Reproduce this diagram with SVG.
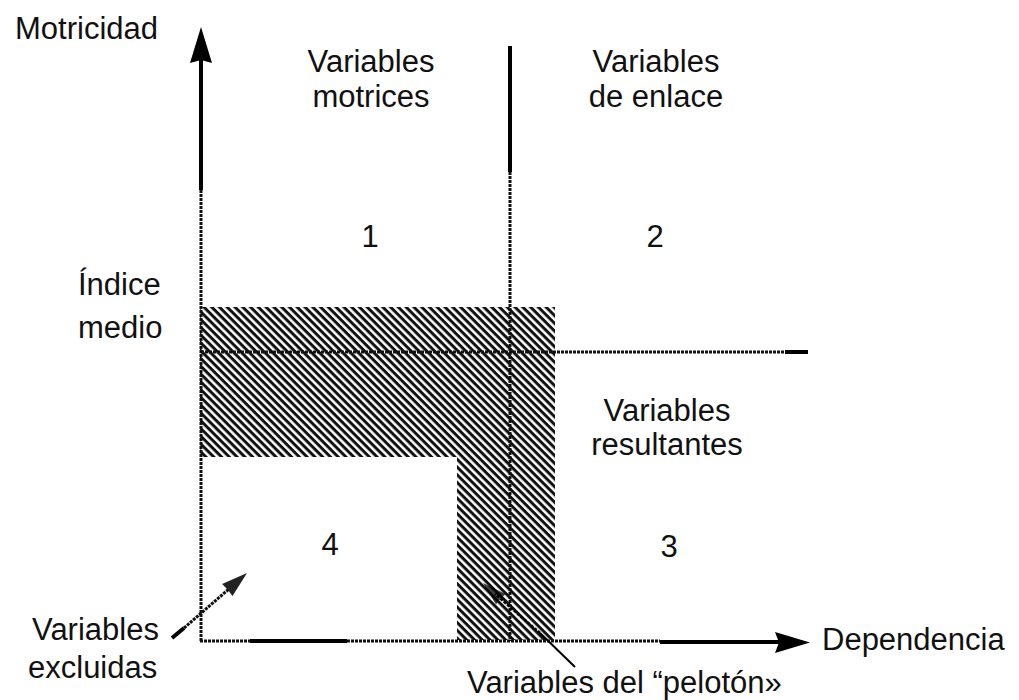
<svg xmlns="http://www.w3.org/2000/svg" width="1019" height="700" viewBox="0 0 1019 700">
<style>
text{font-family:"Liberation Sans",Arial,sans-serif;font-size:31px;fill:#111}
.c{text-anchor:middle}
.tex{stroke:#111;stroke-width:3;stroke-dasharray:3 1;fill:none}
.sol{stroke:#000;stroke-width:4;fill:none}
.thin{stroke:#000;stroke-width:2;fill:none}
</style>
<defs>
<pattern id="hatch" width="5.5" height="5.5" patternUnits="userSpaceOnUse" patternTransform="rotate(45)">
<rect width="5.5" height="5.5" fill="#fff"/>
<rect width="5.5" height="3" fill="#111"/>
</pattern>
</defs>
<rect width="1019" height="700" fill="#fff"/>
<g id="zona-peloton">
<polygon points="200,307 555,307 555,640 457,640 457,457 200,457" fill="url(#hatch)"/>
</g>
<g id="connectors">
<!-- Y axis -->
<line class="sol" x1="201" y1="58" x2="201" y2="190"/>
<line class="tex" x1="201" y1="190" x2="201" y2="641"/>
<polygon points="201,27 212,63 201,60 190,63" fill="#000"/>
<!-- X axis -->
<line class="tex" x1="200" y1="641" x2="250" y2="641"/>
<line class="sol" x1="250" y1="641" x2="347" y2="641"/>
<line class="tex" x1="347" y1="641" x2="660" y2="641"/>
<line class="sol" x1="660" y1="642" x2="780" y2="642"/>
<polygon points="810,642.5 775,632 779,642.5 775,653" fill="#000"/>
<!-- vertical divider -->
<line class="sol" x1="510" y1="46" x2="510" y2="172"/>
<line class="tex" x1="510" y1="172" x2="510" y2="641"/>
<!-- horizontal mean line -->
<line class="tex" x1="201" y1="352" x2="785" y2="352"/>
<line class="sol" x1="785" y1="352" x2="808" y2="352"/>
<!-- excluded arrow -->
<line class="sol" x1="172" y1="638" x2="184" y2="628" stroke-width="3.5"/>
<line class="tex" x1="184" y1="628" x2="230" y2="588"/>
<polygon points="247,573 232.5,596 228,590 222.1,584" fill="#222"/>
<!-- peloton arrow -->
<line class="thin" x1="575" y1="667" x2="540" y2="633"/>
<line stroke="#000" stroke-width="2.5" stroke-dasharray="3 1.5" x1="540" y1="633" x2="495" y2="594"/>
<polygon points="483,583 505.4,594 500,599 496,604.4" fill="#000" opacity="0.75"/>
</g>
<g id="labels">
<text x="15" y="39">Motricidad</text>
<text x="822" y="650">Dependencia</text>
<text x="78" y="295">Índice</text>
<text x="78" y="338">medio</text>
<text class="c" x="371" y="72">Variables</text>
<text class="c" x="371" y="107">motrices</text>
<text class="c" x="656" y="72">Variables</text>
<text class="c" x="656" y="107">de enlace</text>
<text class="c" x="370" y="247">1</text>
<text class="c" x="655" y="247">2</text>
<text class="c" x="667" y="421">Variables</text>
<text class="c" x="667" y="455">resultantes</text>
<text class="c" x="669" y="557">3</text>
<text class="c" x="330" y="555">4</text>
<text x="32" y="640">Variables</text>
<text x="28" y="678">excluidas</text>
<text x="467" y="693">Variables del “pelotón»</text>
</g>
</svg>
